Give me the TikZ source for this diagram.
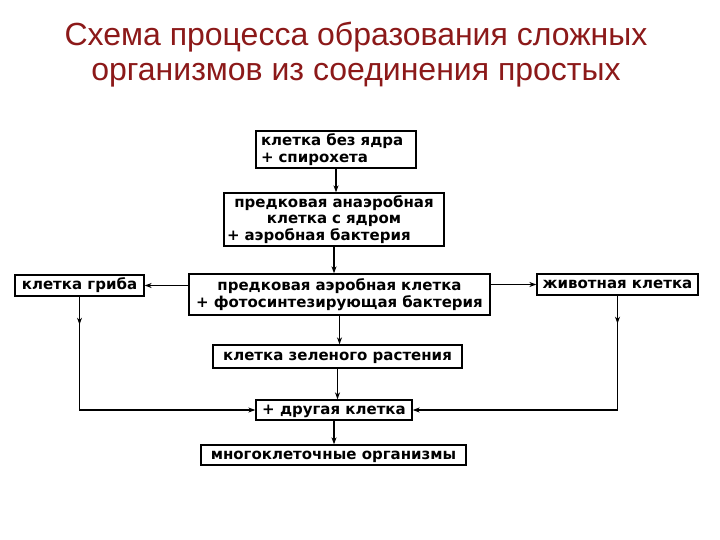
\documentclass[tikz,border=0pt]{standalone}
\usepackage{fontspec}
\setmainfont{Liberation Sans}
\newfontfamily\boxfont{DejaVu Sans}
\usetikzlibrary{arrows.meta,decorations.markings}
\definecolor{titlered}{RGB}{140,25,25}
\tikzset{>={Stealth[length=7pt,width=5pt]},box/.style={draw,line width=1.3pt,inner sep=0pt,font={\boxfont\bfseries\fontsize{15}{16.5}\selectfont}},oneline/.style={box,text height=9pt,text depth=1pt},flow/.style={line width=1.2pt,->},midarrow/.style={postaction={decorate},decoration={markings,mark=at position #1 with {\arrow{>}}}}}

\begin{document}
\begin{tikzpicture}[x=1pt,y=1pt]
\useasboundingbox[fill=white] (0,0) rectangle (720,-540);
\node[font=\fontsize{32}{35}\selectfont,text=titlered,align=center] (title) at (356,-55) {Схема процесса образования сложных\\организмов из соединения простых};
\node[box,minimum width=160pt,minimum height=37pt,text width=150pt,align=left] (nonuc) at (336,-149.5) {клетка без ядра\\+ спирохета};
\node[box,minimum width=220pt,minimum height=53pt,text width=214pt,align=center] (anaer) at (334,-219.5) {предковая анаэробная\\клетка с ядром\\+ аэробная бактерия\hfill\null};
\node[box,minimum width=301pt,minimum height=41pt,text width=297pt,align=center] (aer) at (339.5,-294.5) {предковая аэробная клетка\\+ фотосинтезирующая бактерия};
\node[oneline,minimum width=129pt,minimum height=21pt] (fungus) at (79.5,-285.5) {клетка гриба};
\node[oneline,minimum width=161pt,minimum height=21pt] (animal) at (617.5,-284.5) {животная клетка};
\node[oneline,minimum width=249pt,minimum height=23pt] (plant) at (337.5,-356.5) {клетка зеленого растения};
\node[oneline,minimum width=156pt,minimum height=20pt] (other) at (334,-410) {+ другая клетка};
\node[oneline,minimum width=265pt,minimum height=20pt] (multi) at (333.5,-455) {многоклеточные организмы};
\draw[flow] (nonuc.south) -- (nonuc.south |- anaer.north);\draw[flow] (anaer.south) -- (anaer.south |- aer.north);
\draw[flow] (aer.west |- fungus) -- (fungus.east);\draw[flow] (aer.east |- animal) -- (animal.west);
\draw[flow] (aer.south) -- (aer.south |- plant.north);\draw[flow] (plant.south) -- (plant.south |- other.north);\draw[flow] (other.south) -- (other.south |- multi.north);
\draw[flow,midarrow=28pt] (fungus.south) |- (other.west);\draw[flow,midarrow=28pt] (animal.south) |- (other.east);
\end{tikzpicture}
\end{document}
